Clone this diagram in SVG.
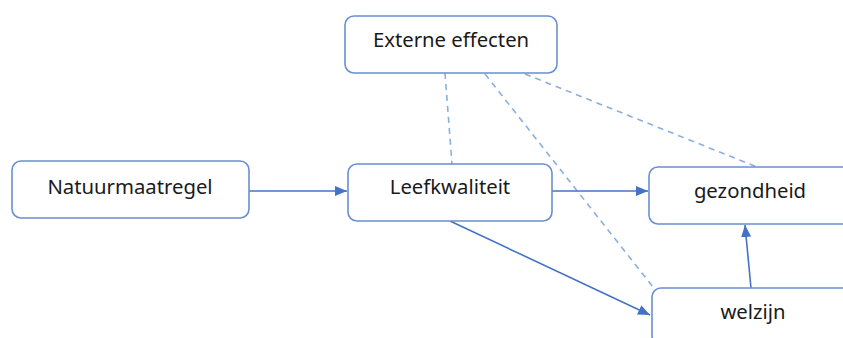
<svg xmlns="http://www.w3.org/2000/svg" width="843" height="338" viewBox="0 0 843 338">
<style>
.box{fill:#fff;stroke:#6a8fd0;stroke-width:1.6}
.lbl{font-family:"Noto Sans","DejaVu Sans",sans-serif;font-size:20.3px;fill:#1a1a1a;text-anchor:middle}
.arr{stroke:#4472c4;stroke-width:1.6;fill:none;marker-end:url(#ah)}
.dash{stroke:#8aaee0;stroke-width:1.6;fill:none;stroke-dasharray:6 5}
</style>
<defs>
<marker id="ah" viewBox="0 0 12 10" refX="12" refY="5" markerWidth="12" markerHeight="10" markerUnits="userSpaceOnUse" orient="auto">
<path d="M0,0 L12,5 L0,10 z" fill="#4472c4"/>
</marker>
</defs>
<rect width="843" height="338" fill="#fff"/>
<g id="connectors">
<line class="dash" x1="445" y1="73" x2="452" y2="164"/>
<line class="dash" x1="485" y1="74" x2="653" y2="287"/>
<line class="dash" x1="525" y1="74" x2="757" y2="167"/>
<line class="arr" x1="249" y1="191" x2="347" y2="191"/>
<line class="arr" x1="552" y1="191" x2="648" y2="191"/>
<line class="arr" x1="450" y1="221" x2="650" y2="315"/>
<line class="arr" x1="751" y1="288" x2="745" y2="225"/>
</g>
<g id="externe">
<rect class="box" x="345" y="16" width="212" height="57" rx="9"/>
<text class="lbl" x="451" y="47">Externe effecten</text>
</g>
<g id="natuurmaatregel">
<rect class="box" x="12" y="161" width="237" height="57" rx="9"/>
<text class="lbl" x="130" y="194">Natuurmaatregel</text>
</g>
<g id="leefkwaliteit">
<rect class="box" x="348" y="164" width="204" height="57" rx="9"/>
<text class="lbl" x="450" y="194">Leefkwaliteit</text>
</g>
<g id="gezondheid">
<rect class="box" x="649" y="167" width="202" height="57" rx="9"/>
<text class="lbl" x="750" y="198">gezondheid</text>
</g>
<g id="welzijn">
<rect class="box" x="652" y="288" width="204" height="57" rx="9"/>
<text class="lbl" x="753" y="319">welzijn</text>
</g>
</svg>
